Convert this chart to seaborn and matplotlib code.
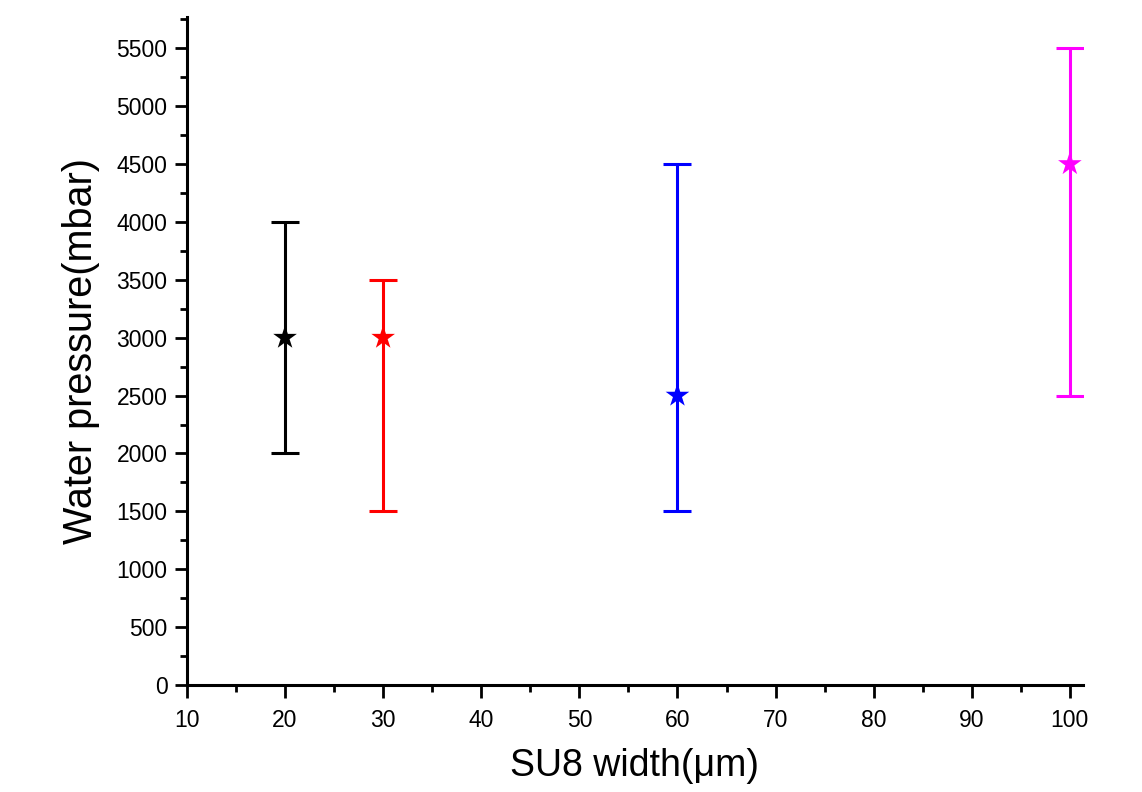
import numpy as np
import pandas as pd
import matplotlib
matplotlib.use('Agg')
import matplotlib.pyplot as plt
import seaborn as sns
from matplotlib.ticker import MultipleLocator

# SU8 width vs water pressure
widths = [20, 30, 60, 100]
pressure = [3000, 3000, 2500, 4500]
err_low = [1000, 1500, 1000, 2000]
err_high = [1000, 500, 2000, 1000]
colors = ['#000000', '#ff0000', '#0000ff', '#ff00ff']

df = pd.DataFrame({'width': widths, 'pressure': pressure})

sns.set_style('ticks')
plt.rcParams['font.family'] = ['Liberation Sans', 'DejaVu Sans']
plt.rcParams['text.color'] = 'black'
plt.rcParams['axes.labelcolor'] = 'black'
plt.rcParams['xtick.labelcolor'] = 'black'
plt.rcParams['ytick.labelcolor'] = 'black'

fig = plt.figure(figsize=(11.42, 7.92), dpi=100)
ax = fig.add_axes([0.1637, 0.1351, 0.7843, 0.8434])

for i in range(len(widths)):
    ax.errorbar(widths[i], pressure[i], yerr=[[err_low[i]], [err_high[i]]],
                fmt='none', ecolor=colors[i], elinewidth=2.2, capsize=10,
                capthick=2.2, zorder=2)

sns.scatterplot(data=df, x='width', y='pressure', hue='width',
                palette=colors, marker='*', s=320, edgecolor=None,
                linewidth=0, legend=False, ax=ax, zorder=3)

ax.set_xlim(10, 101.3)
ax.set_ylim(0, 5770)
ax.xaxis.set_major_locator(MultipleLocator(10))
ax.xaxis.set_minor_locator(MultipleLocator(5))
ax.yaxis.set_major_locator(MultipleLocator(500))
ax.yaxis.set_minor_locator(MultipleLocator(250))
ax.tick_params(axis='both', which='major', direction='out', length=9,
               width=2, labelsize=16.5, color='black')
ax.tick_params(axis='x', which='major', pad=8)
ax.tick_params(axis='y', which='major', pad=5)
ax.tick_params(axis='both', which='minor', direction='out', length=5,
               width=2, color='black')

sns.despine(ax=ax)
for side in ['left', 'bottom']:
    ax.spines[side].set_linewidth(2.2)
    ax.spines[side].set_color('black')

ax.set_xlabel('SU8 width(μm)', fontsize=27, labelpad=12)
ax.set_ylabel('Water pressure(mbar)', fontsize=28.5, labelpad=12)

fig.savefig('out.png', dpi=100)
